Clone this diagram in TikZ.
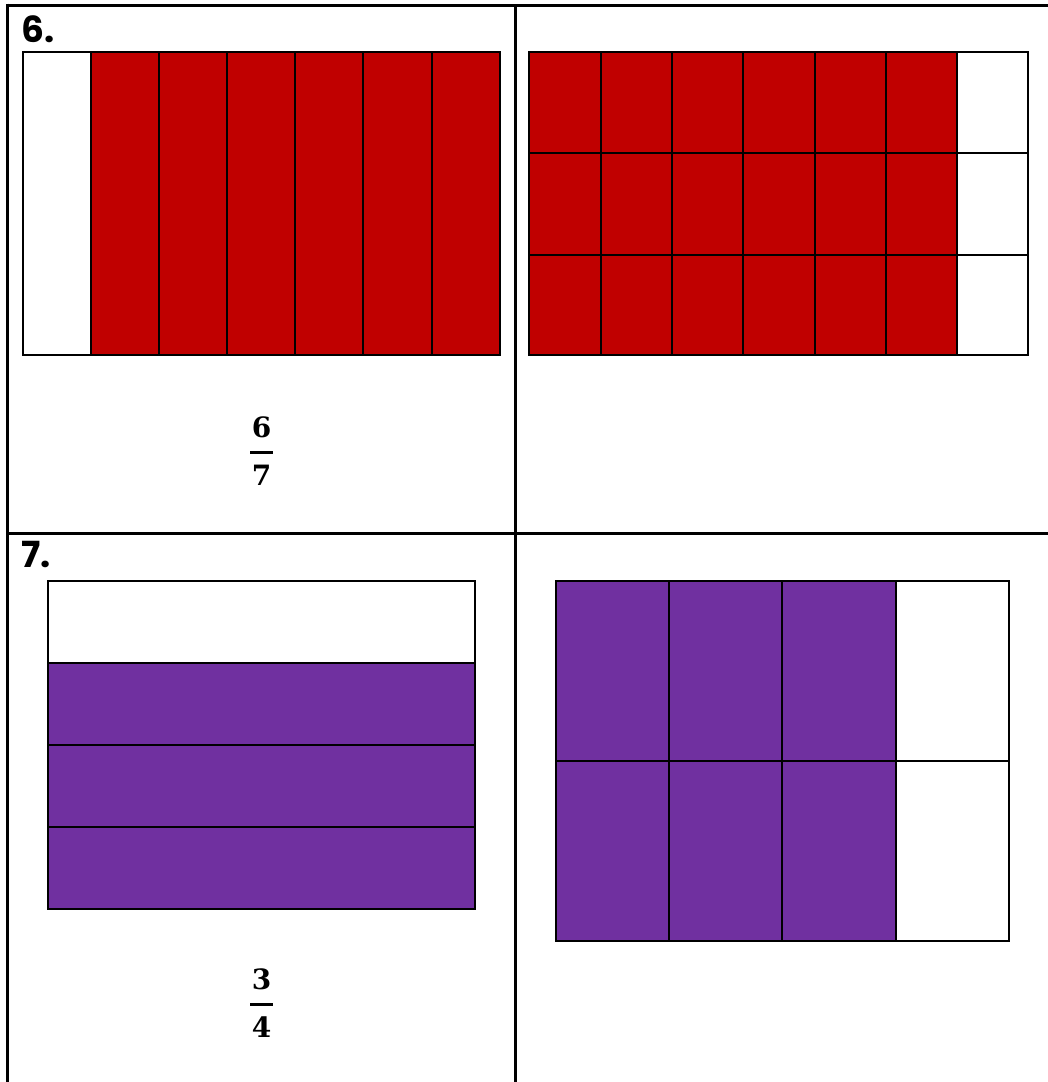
\documentclass[tikz,border=0pt]{standalone}
\usepackage{fontspec}
\newfontfamily\labelfont{Poppins}
\newfontfamily\numfont{DejaVu Serif}
\definecolor{cred}{HTML}{C00000}
\definecolor{cpurple}{HTML}{7030A0}
\begin{document}
\begin{tikzpicture}[x=1pt,y=-1pt,
  tbl/.style={line width=3pt},
  grd/.style={line width=2.2pt},
  lab/.style={anchor=base west, inner sep=0pt, font=\labelfont\bfseries\fontsize{36}{40}\selectfont},
  num/.style={inner sep=0pt, font=\numfont\bfseries\fontsize{28}{32}\selectfont},
  fbar/.style={line width=3pt}]
\useasboundingbox (0,0) rectangle (1048,1082);
\fill[white] (0,0) rectangle (1048,1082);

% table lines
\draw[tbl] (6,5) -- (1048,5);
\draw[tbl] (7.5,3.5) -- (7.5,1082);
\draw[tbl] (515,5) -- (515,1082);
\draw[tbl] (7.5,533) -- (1048,533);

% labels
\node[lab] (lab6) at (21,42) {6.};
\node[lab] (lab7) at (21,567) {7.};

% grid 6 left
\fill[cred] (91,52) rectangle (500,355);
\foreach \x in {91,159,227,295,363,432} \draw[grd] (\x,52) -- (\x,355);
\draw[grd] (23,52) rectangle (500,355);

% grid 6 right
\fill[cred] (529,52) rectangle (957,355);
\foreach \x in {601,672,743,815,886,957} \draw[grd] (\x,52) -- (\x,355);
\foreach \y in {153,255} \draw[grd] (529,\y) -- (1028,\y);
\draw[grd] (529,52) rectangle (1028,355);

% grid 7 left
\fill[cpurple] (48,663) rectangle (475,909);
\foreach \y in {663,745,827} \draw[grd] (48,\y) -- (475,\y);
\draw[grd] (48,581) rectangle (475,909);

% grid 7 right
\fill[cpurple] (556,581) rectangle (896,941);
\foreach \x in {669,782,896} \draw[grd] (\x,581) -- (\x,941);
\draw[grd] (556,761) -- (1009,761);
\draw[grd] (556,581) rectangle (1009,941);

% fraction 6/7
\node[num, anchor=base] (n6) at (261.5,437) {6};
\node[num, anchor=base] (d7) at (261.5,485) {7};
\coordinate (b6l) at (250,452);
\coordinate (b6r) at (273,452);
\draw[fbar] (b6l) -- (b6r);

% fraction 3/4
\node[num, anchor=base] (n3) at (261.5,989) {3};
\node[num, anchor=base] (d4) at (261.5,1037) {4};
\coordinate (b3l) at (250,1004);
\coordinate (b3r) at (273,1004);
\draw[fbar] (b3l) -- (b3r);
\end{tikzpicture}
\end{document}
